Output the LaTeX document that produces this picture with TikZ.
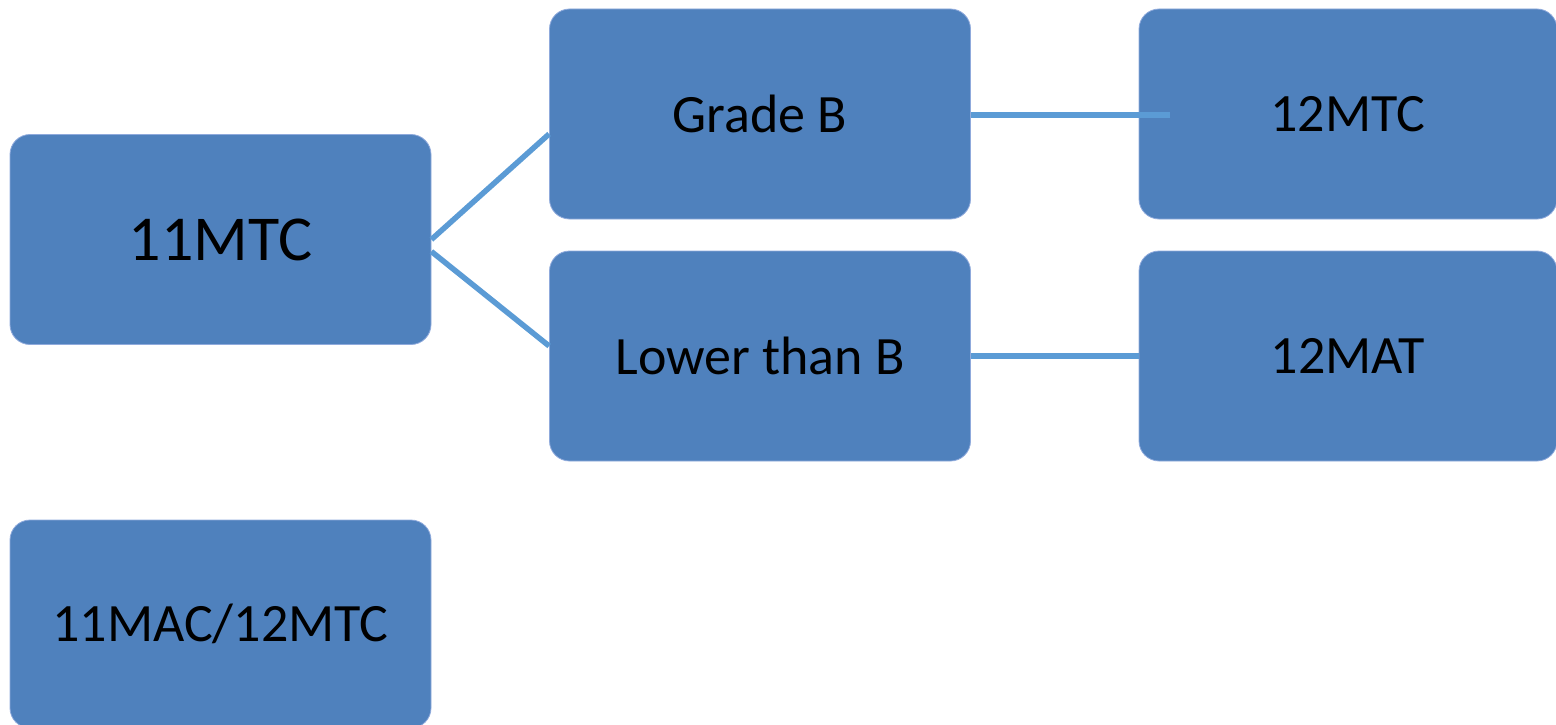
\documentclass[tikz,border=0pt]{standalone}
\usepackage{fontspec}
\setmainfont{Carlito}
\definecolor{boxfill}{HTML}{4F81BD}
\definecolor{boxedge}{HTML}{8FAADC}
\definecolor{linkcol}{HTML}{5B9BD5}
\begin{document}
\begin{tikzpicture}[x=1pt,y=-1pt,
  box/.style={fill=boxfill,draw=boxedge,line width=0.8pt,rounded corners=20pt,
    minimum width=421pt,minimum height=210pt,inner sep=0pt,font=\fontsize{54}{60}\selectfont,text=black},
  link/.style={draw=linkcol,line width=5.5pt}]
\useasboundingbox (0,0) rectangle (1556,725);
\node[box,font=\fontsize{64}{70}\selectfont] (m11) at (220.5,239.5) {11MTC};
\node[box] (gb) at (760,114) {Grade B};
\node[box] (lb) at (760,356) {Lower than B};
\node[box,minimum width=418pt] (t12) at (1348,114) {12MTC};
\node[box,minimum width=418pt] (a12) at (1348,356) {12MAT};
\node[box,minimum height=208pt] (mac) at (220.5,624) {11MAC/12MTC};
\coordinate (gbend) at ([xshift=31pt]t12.west);
\draw[link] ([yshift=0pt]m11.east) -- ([yshift=-20pt]gb.west);
\draw[link] ([yshift=-12pt]m11.east) -- ([yshift=10pt]lb.west);
\draw[link] ([yshift=-1pt]gb.east) -- ([yshift=-1pt]gbend);
\draw[link] (lb.east) -- (a12.west);
\end{tikzpicture}
\end{document}
